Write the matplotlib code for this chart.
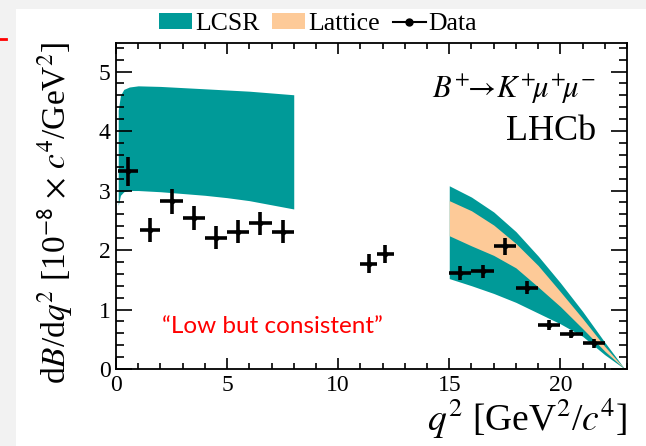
import numpy as np
import matplotlib
matplotlib.use('Agg')
import matplotlib.pyplot as plt
from matplotlib.patches import Patch, Rectangle
from matplotlib.lines import Line2D

plt.rcParams['font.family'] = ['Liberation Serif', 'DejaVu Serif']
plt.rcParams['mathtext.fontset'] = 'stix'

# LHCb B+ -> K+ mu+ mu- differential branching fraction (10^-8 c^4/GeV^2)
bin_lo = [0.1, 1.1, 2, 3, 4, 5, 6, 7, 11, 11.75, 15, 16, 17, 18, 19, 20, 21]
bin_hi = [0.98, 2, 3, 4, 5, 6, 7, 8, 11.75, 12.5, 16, 17, 18, 19, 20, 21, 22]
dbdq2 = [3.32, 2.33, 2.82, 2.54, 2.21, 2.31, 2.45, 2.31, 1.77, 1.93,
         1.61, 1.64, 2.06, 1.37, 0.74, 0.59, 0.43]
dbdq2_err = [0.25, 0.20, 0.21, 0.20, 0.19, 0.19, 0.19, 0.19, 0.16, 0.15,
             0.12, 0.11, 0.15, 0.11, 0.08, 0.07, 0.08]

# LCSR prediction, low q2
lcsr_q = [0.1, 0.2, 0.35, 0.6, 1.0, 2, 3, 4, 5, 6, 7, 8]
lcsr_hi = [4.35, 4.60, 4.70, 4.74, 4.76, 4.75, 4.73, 4.71, 4.69, 4.67, 4.64, 4.61]
lcsr_lo = [2.75, 2.92, 2.98, 3.00, 3.00, 2.98, 2.95, 2.92, 2.88, 2.83, 2.76, 2.69]

# high q2: combined (teal) and lattice (orange) bands
hq_q = [15, 16, 17, 18, 19, 20, 21, 22, 22.9]
comb_hi = [3.08, 2.89, 2.64, 2.31, 1.90, 1.45, 0.97, 0.45, 0.0]
latt_hi = [2.83, 2.66, 2.42, 2.11, 1.74, 1.30, 0.85, 0.38, 0.0]
latt_lo = [2.24, 2.07, 1.91, 1.70, 1.38, 1.05, 0.68, 0.30, 0.0]
comb_lo = [1.52, 1.40, 1.27, 1.12, 0.94, 0.76, 0.55, 0.24, 0.0]

teal = '#009a98'
peach = '#fdca98'

fig = plt.figure(figsize=(6.46, 4.46), dpi=100, facecolor='#f2f2f2')
fig.patches.append(Rectangle((16/646, 0), 1, 1 - 9/446, transform=fig.transFigure,
                             facecolor='white', edgecolor='none', zorder=-10))
fig.lines.append(Line2D([0, 6/646], [1 - 38.5/446] * 2, transform=fig.transFigure,
                        color='red', lw=2))

ax = fig.add_axes([116/646, 1 - 369/446, 511/646, 326/446])

ax.fill_between(lcsr_q, lcsr_lo, lcsr_hi, color=teal, lw=0)
ax.fill_between(hq_q, comb_lo, comb_hi, color=teal, lw=0)
ax.fill_between(hq_q, latt_lo, latt_hi, color=peach, lw=0)

lo = np.array(bin_lo)
hi = np.array(bin_hi)
x = (lo + hi) / 2
ax.errorbar(x, dbdq2, xerr=(hi - lo) / 2, yerr=dbdq2_err, fmt='o', ms=3,
            color='black', elinewidth=2.6, capsize=0, zorder=5)

ax.set_xlim(0, 23)
ax.set_ylim(0, 5.48)
ax.set_xticks([0, 5, 10, 15, 20])
ax.set_xticks(np.arange(0, 23.1, 1), minor=True)
ax.set_yticks([0, 1, 2, 3, 4, 5])
ax.set_yticks(np.arange(0, 5.41, 0.2), minor=True)
ax.tick_params(which='both', direction='in', top=True, right=True,
               labelsize=17, width=1.2)
ax.tick_params(axis='x', which='major', length=7.7, pad=4)
ax.tick_params(axis='x', which='minor', length=4)
ax.tick_params(axis='y', which='major', length=11.3, pad=4)
ax.tick_params(axis='y', which='minor', length=6)
for s in ax.spines.values():
    s.set_linewidth(1.3)

ax.set_ylabel(r'd$B$/d$q^2$ [10$^{\mathsf{-8}}$ $\times$ $c^4$/GeV$^2$]', fontsize=24)
ax.yaxis.set_label_coords(-0.08, 0.48)
ax.set_xlabel(r'$q^2$ [GeV$^2$/$c^4$]', fontsize=27, loc='right')
ax.xaxis.set_label_coords(1.0, -0.085)

ax.text(0.94, 0.857, r'$B^{+}\!\!\rightarrow\! K^{+}\!\mu^{+}\!\mu^{-}$', transform=ax.transAxes,
        ha='right', va='center', fontsize=22)
ax.text(0.94, 0.73, 'LHCb', transform=ax.transAxes, ha='right', va='center', fontsize=26)

ax.text(0.09, 0.13, '\u201cLow but consistent\u201d', transform=ax.transAxes,
        color='red', fontsize=17.5, family=['Lato', 'DejaVu Sans'], va='center')

handles = [Patch(facecolor=teal, edgecolor='none'),
           Patch(facecolor=peach, edgecolor='none'),
           Line2D([], [], color='black', marker='o', ms=5, lw=1.5)]
fig.legend(handles, ['LCSR', 'Lattice', 'Data'], loc='center',
           bbox_to_anchor=(318/646, 1 - 24/446), ncol=3, frameon=False,
           fontsize=18.5, handlelength=1.3, handleheight=0.6, handletextpad=0.1,
           columnspacing=0.5, borderpad=0)

fig.savefig('out.png', dpi=100, facecolor=fig.get_facecolor())
